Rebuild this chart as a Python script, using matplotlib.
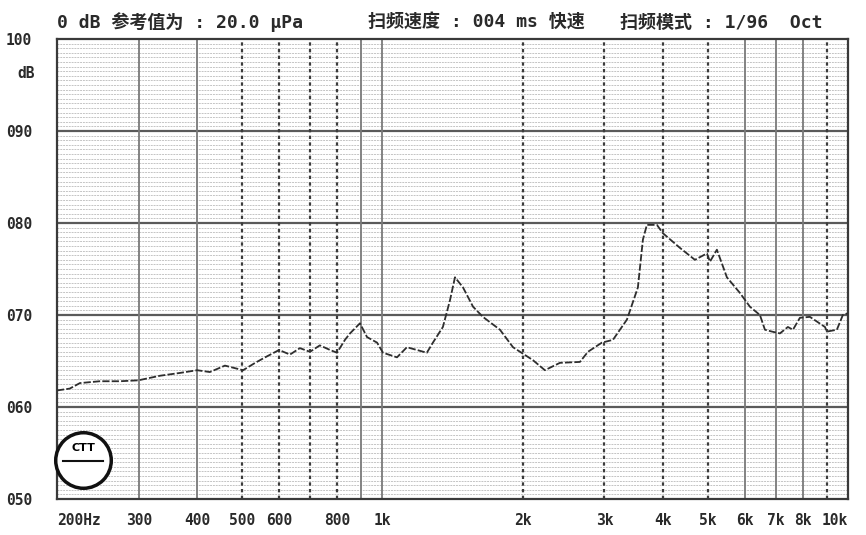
"""
Frequency response chart (200 Hz - 10 kHz, 50 - 100 dB), paper-chart style.
"""

import matplotlib
matplotlib.use("Agg")
import matplotlib.pyplot as plt
from matplotlib.ticker import FixedLocator, NullFormatter
import numpy as np

# --- data ------------------------------------------------------------------
FREQ_HZ = [
    200, 213, 224, 247, 273, 299, 333, 367, 400, 426, 459, 502, 533, 560,
    600, 633, 665, 699, 734, 772, 799, 831, 852, 895, 927, 974, 1003, 1075,
    1129, 1246, 1284, 1349, 1397, 1432, 1490, 1566, 1644, 1789, 1908, 2004,
    2105, 2234, 2406, 2657, 2764, 2962, 3128, 3352, 3539, 3628, 3700, 3888,
    4004, 4357, 4692, 4980, 5054, 5231, 5496, 5862, 6160, 6472, 6634, 6867,
    7144, 7432, 7620, 7887, 8287, 8927, 9016, 9469, 9753, 9999,
]
LEVEL_DB = [
    61.8, 62.0, 62.6, 62.8, 62.8, 62.9, 63.4, 63.7, 64.0, 63.8, 64.5, 64.0,
    64.8, 65.4, 66.2, 65.7, 66.4, 66.0, 66.7, 66.2, 65.9, 67.3, 68.0, 69.1,
    67.6, 67.0, 65.9, 65.4, 66.5, 65.9, 67.0, 68.7, 71.6, 74.1, 73.0, 70.9,
    69.8, 68.4, 66.5, 65.8, 65.1, 64.0, 64.8, 64.9, 66.0, 67.0, 67.3, 69.5,
    73.0, 78.2, 79.8, 79.8, 78.9, 77.3, 76.0, 76.7, 75.8, 77.1, 74.1, 72.4,
    70.9, 70.0, 68.4, 68.2, 68.0, 68.7, 68.4, 69.7, 69.8, 68.7, 68.2, 68.4,
    70.0, 70.2,
]

X_TICKS = [200, 300, 400, 500, 600, 800, 1000, 2000, 3000, 4000, 5000,
           6000, 7000, 8000, 10000]
X_TICK_LABELS = ["200Hz", "300", "400", "500", "600", "800", "1k", "2k",
                 "3k", "4k", "5k", "6k", "7k", "8k", "10k"]
Y_TICKS = [50, 60, 70, 80, 90, 100]
Y_TICK_LABELS = ["050", "060", "070", "080", "090", "100"]

GRID_SOLID = [300, 400, 900, 1000, 6000, 7000, 8000]
GRID_DOTTED = [500, 600, 700, 800, 2000, 3000, 4000, 5000, 9000]

HEADER = [
    "0 dB 参考值为 : 20.0 μPa",
    "扫频速度 : 004 ms 快速",
    "扫频模式 : 1/96  Oct",
]

FONT = ["DejaVu Sans Mono", "Noto Sans CJK SC"]

fig = plt.figure(figsize=(8.66, 5.35), dpi=100)
ax = fig.add_axes([0.0658, 0.0673, 0.9133, 0.8597])
ax.set_xscale("log")
ax.set_xlim(200, 10000)
ax.set_ylim(50, 100)

# fine dashed horizontal grid every 0.5 dB
for y in np.arange(50.5, 100, 0.5):
    if y % 10 == 0:
        continue
    ax.axhline(y, color="#b4b4b4", lw=0.55, ls=(0, (2.5, 1.2)), zorder=1)

for y in Y_TICKS[1:-1]:
    ax.axhline(y, color="#5a5a5a", lw=1.6, zorder=2)

for f in GRID_SOLID:
    ax.axvline(f, color="#7a7a7a", lw=1.3, zorder=2)
for f in GRID_DOTTED:
    ax.axvline(f, color="#3c3c3c", lw=1.6, ls=(0, (1.5, 1.5)), zorder=2)

ax.plot(FREQ_HZ, LEVEL_DB, color="#2e2e2e", lw=1.3,
        ls=(0, (4, 1.2)), zorder=4)

for s in ax.spines.values():
    s.set_color("#3a3a3a")
    s.set_linewidth(1.6)

ax.xaxis.set_major_locator(FixedLocator(X_TICKS))
ax.set_xticklabels(X_TICK_LABELS)
ax.xaxis.set_minor_formatter(NullFormatter())
ax.set_yticks(Y_TICKS)
ax.set_yticklabels(Y_TICK_LABELS)
ax.tick_params(which="both", length=0, pad=10, labelsize=10.5,
               colors="#2a2a2a")
for lbl in ax.get_xticklabels() + ax.get_yticklabels():
    lbl.set_fontfamily(FONT)
    lbl.set_fontweight("bold")
xl = ax.get_xticklabels()
xl[0].set_horizontalalignment("left")
xl[-1].set_horizontalalignment("right")
ax.tick_params(axis="y", pad=18)

fig.text(0.02, 0.855, "dB", fontsize=10.5, fontweight="bold",
         family=FONT, color="#2a2a2a")

# header line
for xpos, txt in zip([0.066, 0.425, 0.716], HEADER):
    fig.text(xpos, 0.958, txt, fontsize=13, fontweight="bold",
             family=FONT, color="#2a2a2a", va="center")

# stamp in lower-left corner
ax.plot([0.033], [0.085], marker="o", ms=40, mfc="white", mec="#111111",
        mew=2.5, transform=ax.transAxes, zorder=5, clip_on=False)
ax.plot([0.008, 0.058], [0.083, 0.083], color="#111111", lw=1.5,
        transform=ax.transAxes, zorder=6)
ax.text(0.033, 0.11, "CTT", ha="center", va="center", fontsize=8,
        fontweight="bold", transform=ax.transAxes, zorder=6)

fig.savefig("out.png", dpi=100, facecolor="white")
